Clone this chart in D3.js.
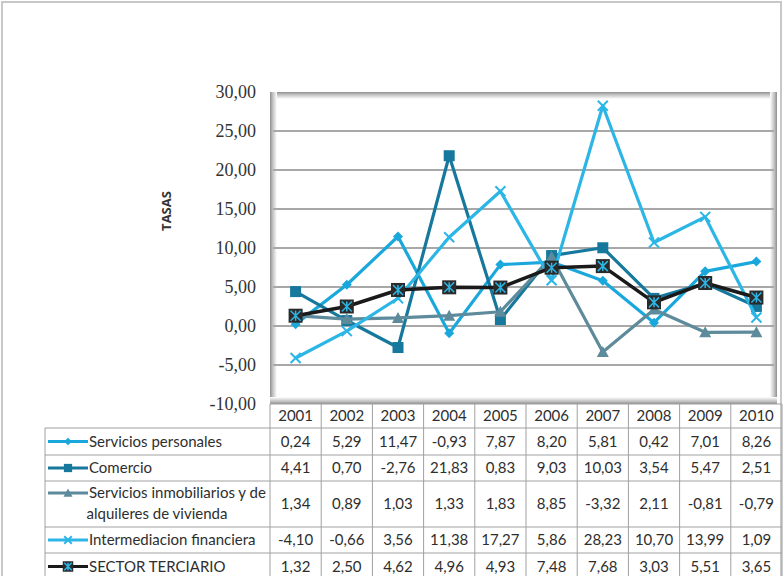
<!DOCTYPE html>
<html><head><meta charset="utf-8">
<script src="https://cdn.jsdelivr.net/npm/d3@7"></script>
<style>body{margin:0;background:#fff}svg{display:block}</style>
</head><body>
<script>
const years = ["2001","2002","2003","2004","2005","2006","2007","2008","2009","2010"];
const serviciosPersonales = [0.24,5.29,11.47,-0.93,7.87,8.20,5.81,0.42,7.01,8.26];
const comercio = [4.41,0.70,-2.76,21.83,0.83,9.03,10.03,3.54,5.47,2.51];
const serviciosInmobiliarios = [1.34,0.89,1.03,1.33,1.83,8.85,-3.32,2.11,-0.81,-0.79];
const intermediacion = [-4.10,-0.66,3.56,11.38,17.27,5.86,28.23,10.70,13.99,1.09];
const sectorTerciario = [1.32,2.50,4.62,4.96,4.93,7.48,7.68,3.03,5.51,3.65];
const yTicks = [30,25,20,15,10,5,0,-5,-10];
const seriesNames = [["Servicios personales"],["Comercio"],["Servicios inmobiliarios y de","alquileres de vivienda"],["Intermediacion financiera"],["SECTOR TERCIARIO"]];

const series = [
  {name: seriesNames[0], values: serviciosPersonales, color:"#1aa8dc", marker:"diamond"},
  {name: seriesNames[1], values: comercio, color:"#16789c", marker:"square"},
  {name: seriesNames[2], values: serviciosInmobiliarios, color:"#5e8b9b", marker:"triangle"},
  {name: seriesNames[3], values: intermediacion, color:"#2cb6e6", marker:"x"},
  {name: seriesNames[4], values: sectorTerciario, color:"#1a1a1a", marker:"terc"}
];

const W=783,H=576;
const svg=d3.select("body").append("svg").attr("width",W).attr("height",H);
const fmt = v => d3.format(".2f")(v).replace(".",",").replace("−","-");

svg.append("rect").attr("x",2).attr("y",2).attr("width",779).attr("height",580)
  .attr("fill","#fff").attr("stroke","#c8c8c8").attr("stroke-width",2);

const plotL=270, plotR=777, plotT=92, plotB=404, tableR=782;
const x=d3.scaleBand().domain(years).range([plotL,tableR]);
const y=d3.scaleLinear().domain([-10,30]).range([plotB,plotT]);

const defs=svg.append("defs");
function grad(id,x1,y1,x2,y2){
  const g=defs.append("linearGradient").attr("id",id).attr("x1",x1).attr("y1",y1).attr("x2",x2).attr("y2",y2);
  g.append("stop").attr("offset",0).attr("stop-color","#8e8e8e");
  g.append("stop").attr("offset",0.35).attr("stop-color","#bdbdbd");
  g.append("stop").attr("offset",1).attr("stop-color","#ffffff");
}
grad("gT",0,0,0,1); grad("gL",0,0,1,0); grad("gR",1,0,0,0); grad("gB",0,1,0,0);
svg.append("rect").attr("x",plotL).attr("y",plotT).attr("width",plotR-plotL).attr("height",plotB-plotT).attr("fill","#fff");
svg.append("rect").attr("x",plotL).attr("y",plotT).attr("width",plotR-plotL).attr("height",7).attr("fill","url(#gT)");
svg.append("rect").attr("x",plotL).attr("y",plotT).attr("width",7).attr("height",plotB-plotT).attr("fill","url(#gL)");
svg.append("rect").attr("x",plotR-7).attr("y",plotT).attr("width",7).attr("height",plotB-plotT).attr("fill","url(#gR)");
svg.append("rect").attr("x",plotL).attr("y",plotB-7).attr("width",plotR-plotL).attr("height",7).attr("fill","url(#gB)");

svg.append("g").selectAll("line").data(yTicks.filter(t=>t>-10&&t<30)).join("line")
  .attr("x1",plotL+3).attr("x2",plotR-3).attr("y1",d=>y(d)).attr("y2",d=>y(d))
  .attr("stroke","#a8a8a8").attr("stroke-width",2);

svg.append("g").selectAll("text").data(yTicks).join("text")
  .attr("x",256).attr("y",d=>y(d)).attr("dy","0.33em").attr("text-anchor","end")
  .style("font-family","'Liberation Serif', 'DejaVu Serif', serif").attr("font-size",18).attr("fill","#333")
  .text(d=>fmt(d));

svg.append("text").attr("transform","translate(171,211) rotate(-90)")
  .attr("text-anchor","middle").style("font-family","'Open Sans', sans-serif").attr("font-weight","bold")
  .attr("font-size",13).attr("fill","#333").text("TASAS");

const cx = d => x(d)+x.bandwidth()/2;

function drawMarker(g, type, color, px, py, scale){
  const s = scale||1;
  if(type==="diamond"){
    g.append("path").attr("d",`M${px},${py-5*s}L${px+5*s},${py}L${px},${py+5*s}L${px-5*s},${py}Z`).attr("fill",color);
  } else if(type==="square"){
    g.append("rect").attr("x",px-5.5*s).attr("y",py-5.5*s).attr("width",11*s).attr("height",11*s).attr("fill",color);
  } else if(type==="triangle"){
    g.append("path").attr("d",`M${px},${py-6*s}L${px+6*s},${py+5*s}L${px-6*s},${py+5*s}Z`).attr("fill",color);
  } else if(type==="x"){
    g.append("path").attr("d",`M${px-5*s},${py-5*s}L${px+5*s},${py+5*s}M${px+5*s},${py-5*s}L${px-5*s},${py+5*s}`)
      .attr("stroke",color).attr("stroke-width",2);
  } else if(type==="terc"){
    g.append("rect").attr("x",px-7*s).attr("y",py-7*s).attr("width",14*s).attr("height",14*s).attr("fill","#2a2a2a");
    g.append("path").attr("d",`M${px-5*s},${py-5*s}L${px+5*s},${py+5*s}M${px+5*s},${py-5*s}L${px-5*s},${py+5*s}M${px},${py-5*s}L${px},${py+5*s}`)
      .attr("stroke","#2cb6e6").attr("stroke-width",1.5);
  }
}

const lineGen = d3.line().x((d,i)=>cx(years[i])).y(d=>y(d));
series.forEach(s=>{
  const g=svg.append("g");
  g.append("path").datum(s.values).attr("d",lineGen).attr("fill","none")
    .attr("stroke",s.color).attr("stroke-width",s.marker==="terc"?3.5:3.2).attr("stroke-linejoin","round");
  s.values.forEach((v,i)=>drawMarker(g,s.marker,s.color,cx(years[i]),y(v)));
});

const tableL=45;
const rowTops=[404,428,455,481,527,553,580];
const tg=svg.append("g");
const gridColor="#a0a0a0";
tg.append("line").attr("x1",plotL).attr("x2",tableR).attr("y1",rowTops[0]).attr("y2",rowTops[0]).attr("stroke",gridColor);
for(let r=1;r<rowTops.length;r++){
  tg.append("line").attr("x1",tableL).attr("x2",tableR).attr("y1",rowTops[r]).attr("y2",rowTops[r]).attr("stroke",gridColor);
}
tg.append("line").attr("x1",tableL).attr("x2",tableL).attr("y1",rowTops[1]).attr("y2",H).attr("stroke",gridColor);
years.forEach(yr=>{
  tg.append("line").attr("x1",x(yr)).attr("x2",x(yr)).attr("y1",rowTops[0]).attr("y2",H).attr("stroke",gridColor);
});
tg.append("line").attr("x1",tableR).attr("x2",tableR).attr("y1",rowTops[0]).attr("y2",H).attr("stroke",gridColor);

const tf="Lato, 'Open Sans', sans-serif";
const fs=15;
tg.selectAll("text.yr").data(years).join("text").attr("class","yr")
  .attr("x",d=>cx(d)).attr("y",(rowTops[0]+rowTops[1])/2).attr("dy","0.35em")
  .attr("text-anchor","middle").style("font-family",tf).attr("font-size",fs).attr("fill","#2e2e2e").text(d=>d);

series.forEach((s,r)=>{
  const mid=(rowTops[r+1]+rowTops[r+2])/2;
  s.values.forEach((v,i)=>{
    tg.append("text").attr("x",cx(years[i])).attr("y",mid).attr("dy","0.35em")
      .attr("text-anchor","middle").style("font-family",tf).attr("font-size",fs).attr("fill","#2e2e2e").text(fmt(v));
  });
  const ly = s.name.length>1 ? rowTops[r+1]+12 : mid;
  tg.append("line").attr("x1",48).attr("x2",88).attr("y1",ly).attr("y2",ly)
    .attr("stroke",s.color).attr("stroke-width",3);
  drawMarker(tg,s.marker,s.color,68,ly,0.75);
  tg.append("text").attr("x",89).attr("y",ly).attr("dy","0.35em").style("font-family",tf)
    .attr("font-size",fs).attr("fill","#2e2e2e").text(s.name[0]);
  if(s.name.length>1){
    tg.append("text").attr("x",157).attr("y",ly+21).attr("dy","0.35em").attr("text-anchor","middle").style("font-family",tf)
      .attr("font-size",fs).attr("fill","#2e2e2e").text(s.name[1]);
  }
});
</script>
</body></html>
